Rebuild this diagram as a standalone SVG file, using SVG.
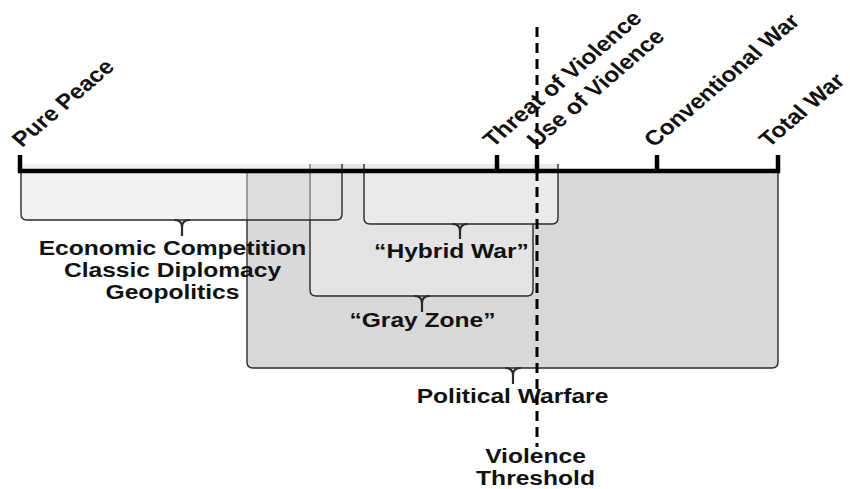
<svg xmlns="http://www.w3.org/2000/svg" width="850" height="489" viewBox="0 0 850 489">
  <style>
    .t { font-family: "Liberation Sans", Arial, sans-serif; font-weight: bold; font-size: 20.5px; fill: #111; }
    .r { font-size: 21px; }
    .br { stroke: #2a2a2a; stroke-width: 1.4; stroke-linejoin: round; }
    .stem { fill: none; stroke: #2a2a2a; stroke-width: 2.2; stroke-linecap: butt; }
    .tick { stroke: #000; stroke-width: 4.5; fill: none; }
  </style>
  <rect width="850" height="489" fill="#fff"/>

  <g id="political-warfare">
    <path class="br" fill="#d9d9d9" d="M247,171 V362 Q247,368 253,368 H772 Q778,368 778,362 V171"/>
    <path class="stem" d="M505,368 Q513,368 513,375 V384 M521,368 Q513,368 513,375"/>
    <text class="t" text-anchor="middle" transform="matrix(1.2 0 0 1 512.5 403)">Political Warfare</text>
  </g>

  <g id="gray-zone">
    <path class="br" fill="#e4e4e4" d="M310,164 V290 Q310,296 316,296 H527 Q533,296 533,290 V164"/>
    <path class="stem" d="M414,296 Q422,296 422,303 V312 M430,296 Q422,296 422,303"/>
    <text class="t" text-anchor="middle" transform="matrix(1.2 0 0 1 422.5 327)">“Gray Zone”</text>
  </g>

  <g id="economic">
    <path class="br" fill="#e2e2e2" fill-opacity="0.45" stroke="#444" d="M21,164 V214 Q21,220 27,220 H336 Q342,220 342,214 V164"/>
    <path class="stem" d="M174,220 Q182,220 182,227 V236 M190,220 Q182,220 182,227"/>
    <text class="t" text-anchor="middle" transform="matrix(1.2 0 0 1 172.5 255)">Economic Competition</text>
    <text class="t" text-anchor="middle" transform="matrix(1.2 0 0 1 172.5 277)">Classic Diplomacy</text>
    <text class="t" text-anchor="middle" transform="matrix(1.2 0 0 1 172.5 299)">Geopolitics</text>
  </g>

  <g id="hybrid-war">
    <path class="br" fill="#ebebeb" d="M364,164 V218 Q364,224 370,224 H552 Q558,224 558,218 V164"/>
    <path class="stem" d="M452,224 Q460,224 460,231 V239 M468,224 Q460,224 460,231"/>
    <text class="t" text-anchor="middle" transform="matrix(1.2 0 0 1 451.5 258)">“Hybrid War”</text>
  </g>

  <g id="axis">
    <path class="tick" stroke-linejoin="miter" d="M20,155 V171 H778 V155"/>
    <path class="tick" d="M497,155 V171 M537,155 V171 M657,155 V171"/>
  </g>

  <g id="connectors">
    <line x1="537" y1="27" x2="537" y2="447" stroke="#000" stroke-width="3" stroke-dasharray="10 6"/>
  </g>

  <g id="labels">
    <text class="t r" transform="matrix(1.17 0 0 1 22 148) rotate(-45)">Pure Peace</text>
    <text class="t r" transform="matrix(1.17 0 0 1 493 148) rotate(-45)">Threat of Violence</text>
    <text class="t r" transform="matrix(1.17 0 0 1 537 148) rotate(-45)">Use of Violence</text>
    <text class="t r" transform="matrix(1.17 0 0 1 654 148) rotate(-45)">Conventional War</text>
    <text class="t r" transform="matrix(1.17 0 0 1 769 148) rotate(-45)">Total War</text>
  </g>

  <g id="violence-threshold">
    <text class="t" text-anchor="middle" transform="matrix(1.2 0 0 1 535.5 463)">Violence</text>
    <text class="t" text-anchor="middle" transform="matrix(1.2 0 0 1 535.5 485)">Threshold</text>
  </g>
</svg>
